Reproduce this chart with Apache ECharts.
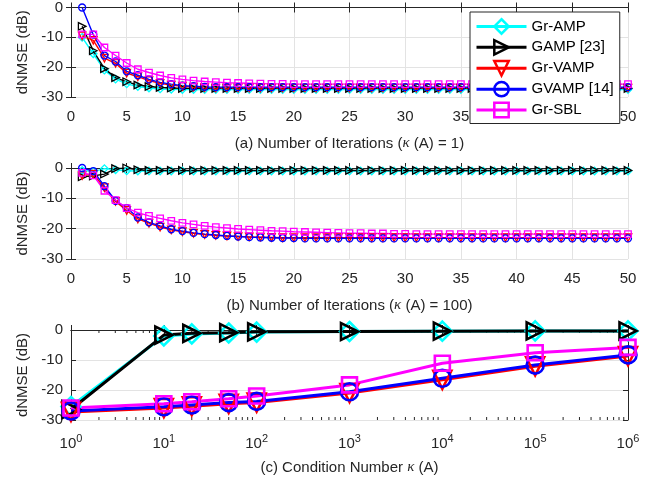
<!DOCTYPE html>
<html><head><meta charset="utf-8">
<script src="https://cdn.jsdelivr.net/npm/echarts@6/dist/echarts.min.js"></script>
<style>html,body{margin:0;padding:0;background:#fff}#c{width:662px;height:482px}</style>
</head><body><div id="c"></div>
<script>
const names = ['Gr-AMP', 'GAMP [23]', 'Gr-VAMP', 'GVAMP [14]', 'Gr-SBL'];
const colors = ['#00ffff', '#000000', '#ff0000', '#0000ff', '#ff00ff'];
const symbols = ['diamond', 'triangle', 'triangle', 'circle', 'rect'];
const rotations = [0, -90, 180, 0, 0];

const iterations = [1,2,3,4,5,6,7,8,9,10,11,12,13,14,15,16,17,18,19,20,21,22,23,24,25,
  26,27,28,29,30,31,32,33,34,35,36,37,38,39,40,41,42,43,44,45,46,47,48,49,50];

// (a) kappa(A) = 1
const a_GrAMP = [-10,-15.5,-21,-24,-25.6,-26.5,-27,-27.3,-27.4,-27.5,
  -27.5,-27.5,-27.5,-27.5,-27.5,-27.5,-27.5,-27.5,-27.5,-27.5,
  -27.5,-27.5,-27.5,-27.5,-27.5,-27.5,-27.5,-27.5,-27.5,-27.5,
  -27.5,-27.5,-27.5,-27.5,-27.5,-27.5,-27.5,-27.5,-27.5,-27.5,
  -27.5,-27.5,-27.5,-27.5,-27.5,-27.5,-27.5,-27.5,-27.5,-27.5];
const a_GAMP = [-6.3,-14.5,-20.5,-23.5,-24.9,-26,-26.5,-26.8,-27,-27.1,
  -27.1,-27.1,-27.1,-27.1,-27.1,-27.1,-27.1,-27.1,-27.1,-27.1,
  -27.1,-27.1,-27.1,-27.1,-27.1,-27.1,-27.1,-27.1,-27.1,-27.1,
  -27.1,-27.1,-27.1,-27.1,-27.1,-27.1,-27.1,-27.1,-27.1,-27.1,
  -27.1,-27.1,-27.1,-27.1,-27.1,-27.1,-27.1,-27.1,-27.1,-27.1];
const a_GrVAMP = [-9.5,-11,-17,-18.7,-22,-23.2,-24.5,-25.4,-26,-26.4,
  -26.7,-26.9,-27,-27,-27,-27,-27,-27,-27,-27,
  -27,-27,-27,-27,-27,-27,-27,-27,-27,-27,
  -27,-27,-27,-27,-27,-27,-27,-27,-27,-27,
  -27,-27,-27,-27,-27,-27,-27,-27,-27,-27];
const a_GVAMP = [0,-9.1,-16.1,-18.1,-21.4,-22.7,-24.1,-25.1,-25.7,-26.2,
  -26.4,-26.6,-26.7,-26.7,-26.7,-26.7,-26.7,-26.7,-26.7,-26.7,
  -26.7,-26.7,-26.7,-26.7,-26.7,-26.7,-26.7,-26.7,-26.7,-26.7,
  -26.7,-26.7,-26.7,-26.7,-26.7,-26.7,-26.7,-26.7,-26.7,-26.7,
  -26.7,-26.7,-26.7,-26.7,-26.7,-26.7,-26.7,-26.7,-26.7,-26.7];
const a_GrSBL = [-9,-9,-13.4,-16.1,-18.6,-20.7,-21.8,-22.8,-23.6,-24.1,
  -24.5,-24.8,-25,-25.2,-25.3,-25.4,-25.5,-25.6,-25.6,-25.7,
  -25.7,-25.7,-25.7,-25.7,-25.7,-25.7,-25.7,-25.7,-25.7,-25.7,
  -25.7,-25.7,-25.7,-25.7,-25.7,-25.7,-25.7,-25.7,-25.7,-25.7,
  -25.7,-25.7,-25.7,-25.7,-25.7,-25.7,-25.7,-25.7,-25.7,-25.7];

// (b) kappa(A) = 100
const b_GrAMP = [-0.8,-1.2,-0.2,-0.6,-0.9,-1,-1,-1,-1,-1,
  -1,-1,-1,-1,-1,-1,-1,-1,-1,-1,
  -1,-1,-1,-1,-1,-1,-1,-1,-1,-1,
  -1,-1,-1,-1,-1,-1,-1,-1,-1,-1,
  -1,-1,-1,-1,-1,-1,-1,-1,-1,-1];
const b_GAMP = [-2.9,-2.6,-2,-0.2,0,-0.6,-0.8,-0.8,-0.8,-0.8,
  -0.8,-0.8,-0.8,-0.8,-0.8,-0.8,-0.8,-0.8,-0.8,-0.8,
  -0.8,-0.8,-0.8,-0.8,-0.8,-0.8,-0.8,-0.8,-0.8,-0.8,
  -0.8,-0.8,-0.8,-0.8,-0.8,-0.8,-0.8,-0.8,-0.8,-0.8,
  -0.8,-0.8,-0.8,-0.8,-0.8,-0.8,-0.8,-0.8,-0.8,-0.8];
const b_GrVAMP = [-2.5,-2,-6.5,-11,-14,-16.8,-18.2,-19.5,-20.4,-21,
  -21.5,-21.9,-22.2,-22.4,-22.6,-22.7,-22.8,-22.9,-23,-23,
  -23,-23,-23,-23,-23,-23,-23,-23,-23,-23,
  -23,-23,-23,-23,-23,-23,-23,-23,-23,-23,
  -23,-23,-23,-23,-23,-23,-23,-23,-23,-23];
const b_GVAMP = [0,-1,-6,-10.8,-13.2,-16.3,-17.9,-19.1,-20.2,-20.8,
  -21.4,-21.8,-22.1,-22.4,-22.6,-22.8,-22.9,-23,-23.1,-23.1,
  -23.2,-23.2,-23.2,-23.2,-23.2,-23.2,-23.2,-23.2,-23.2,-23.2,
  -23.2,-23.2,-23.2,-23.2,-23.2,-23.2,-23.2,-23.2,-23.2,-23.2,
  -23.2,-23.2,-23.2,-23.2,-23.2,-23.2,-23.2,-23.2,-23.2,-23.2];
const b_GrSBL = [-1.6,-2.4,-7.5,-10.6,-13.2,-14.7,-15.8,-16.6,-17.4,-18.1,
  -18.6,-19.1,-19.5,-19.8,-20.1,-20.3,-20.5,-20.7,-20.8,-21,
  -21.1,-21.2,-21.3,-21.4,-21.5,-21.5,-21.6,-21.6,-21.7,-21.7,
  -21.8,-21.8,-21.8,-21.8,-21.8,-21.8,-21.8,-21.8,-21.8,-21.8,
  -21.8,-21.8,-21.8,-21.8,-21.8,-21.8,-21.8,-21.8,-21.8,-21.8];

// (c) versus condition number
const condNumbers = [1, 10, 20, 50, 100, 1000, 10000, 100000, 1000000];
const c_GrAMP = [-25.5, -2, -1.3, -1, -0.7, -0.5, -0.4, -0.3, -0.3];
const c_GAMP = [-26.5, -1.7, -1.1, -0.9, -0.6, -0.5, -0.4, -0.3, -0.3];
const c_GrVAMP = [-27.3, -26, -25.4, -24.6, -24.2, -21, -16.6, -12.1, -8.7];
const c_GVAMP = [-27, -25.6, -25, -24.2, -23.8, -20.6, -16.1, -11.7, -8.3];
const c_GrSBL = [-26, -24.6, -23.9, -22.9, -22, -18.3, -11.1, -7.6, -5.8];

const yTicksMin = -30, yTicksMax = 0;

const FONT = 'Liberation Sans, Arial, Helvetica, sans-serif';
const AX = '#262626';
const GRIDC = '#e3e3e3';

const grids = [
  {left: 71, top: 6, width: 557, height: 91},
  {left: 71, top: 168, width: 557, height: 91},
  {left: 71, top: 330, width: 557, height: 90}
];

const richName = {
  n: {fontSize: 15, color: AX, fontFamily: FONT},
  k: {fontSize: 15, color: AX, fontFamily: 'Liberation Serif, serif', fontStyle: 'italic'}
};
const titles = [
  '{n|(a) Number of Iterations (}{k|κ}{n| (A) = 1)}',
  '{n|(b) Number of Iterations (}{k|κ}{n| (A) = 100)}',
  '{n|(c) Condition Number }{k|κ}{n| (A)}'
];

const xAxes = [], yAxes = [];
for (let g = 0; g < 3; g++) {
  const isLog = g === 2;
  const base = isLog
    ? {type: 'log', logBase: 10, min: 1, max: 1000000, splitNumber: 6}
    : {type: 'value', min: 0, max: 50, interval: 5};
  xAxes.push(Object.assign({}, base, {
    gridIndex: g, position: 'bottom',
    axisLine: {show: true, lineStyle: {color: AX, width: 1}},
    axisTick: {show: true, inside: true, length: 5, lineStyle: {color: AX}},
    splitLine: {show: !isLog, lineStyle: {color: GRIDC, width: 1}},
    axisLabel: isLog ? {
      margin: 13, color: AX, fontFamily: FONT,
      formatter: v => '{b|10}{s|' + Math.round(Math.log10(v)) + '}',
      rich: {b: {fontSize: 15, color: AX, fontFamily: FONT},
             s: {fontSize: 11, color: AX, fontFamily: FONT, padding: [0, 0, 10, 0]}}
    } : {margin: 12, fontSize: 15, color: AX, fontFamily: FONT},
    name: titles[g], nameLocation: 'middle', nameGap: isLog ? 40 : 39,
    nameTextStyle: {rich: richName}
  }));
  xAxes.push(Object.assign({}, base, {
    gridIndex: g, position: 'top',
    axisLine: {show: true, lineStyle: {color: AX, width: 1}},
    axisTick: {show: true, inside: true, length: 5, lineStyle: {color: AX}},
    splitLine: {show: false}, axisLabel: {show: false}
  }));
  yAxes.push({
    type: 'value', gridIndex: g, position: 'left', min: yTicksMin, max: yTicksMax, interval: 10,
    axisLine: {show: true, lineStyle: {color: AX, width: 1}},
    axisTick: {show: true, inside: true, length: 5, lineStyle: {color: AX}},
    splitLine: {show: true, lineStyle: {color: GRIDC, width: 1}},
    axisLabel: {margin: 8, fontSize: 15, color: AX, fontFamily: FONT},
    name: 'dNMSE (dB)', nameLocation: 'middle', nameGap: 37,
    nameTextStyle: {fontSize: 15, color: AX, fontFamily: FONT}
  });
  yAxes.push({
    type: 'value', gridIndex: g, position: 'right', min: yTicksMin, max: yTicksMax, interval: 10,
    axisLine: {show: true, lineStyle: {color: AX, width: 1}},
    axisTick: {show: true, inside: true, length: 5, lineStyle: {color: AX}},
    splitLine: {show: false}, axisLabel: {show: false}
  });
}

function mkSeries(g, xs, ys, k, big) {
  const small = [7.5, 7.5, 7.5, 7, 6.5];
  const large = [19, 17, 18, 17, 15];
  return {
    type: 'line', name: names[k], xAxisIndex: g * 2, yAxisIndex: g * 2,
    data: xs.map((x, j) => [x, ys[j]]),
    symbol: symbols[k], symbolRotate: rotations[k],
    symbolSize: big ? large[k] : small[k],
    showAllSymbol: true,
    lineStyle: {color: colors[k], width: big ? 3 : 1.4},
    itemStyle: {color: 'rgba(255,255,255,0)', borderColor: colors[k], borderWidth: big ? 2.6 : 1.3},
    emphasis: {disabled: true}, silent: true, animation: false
  };
}

const sets = [
  [iterations, [a_GrAMP, a_GAMP, a_GrVAMP, a_GVAMP, a_GrSBL], false],
  [iterations, [b_GrAMP, b_GAMP, b_GrVAMP, b_GVAMP, b_GrSBL], false],
  [condNumbers, [c_GrAMP, c_GAMP, c_GrVAMP, c_GVAMP, c_GrSBL], true]
];
const series = [];
sets.forEach((s, g) => s[1].forEach((ys, k) => series.push(mkSeries(g, s[0], ys, k, s[2]))));

// minor log ticks of panel (c)
const minorTicks = [];
for (let d = 0; d < 6; d++) for (let m = 2; m <= 9; m++) minorTicks.push(m * Math.pow(10, d));
series.push({
  type: 'custom', xAxisIndex: 4, yAxisIndex: 4, silent: true, animation: false,
  data: minorTicks.map(v => [v]),
  renderItem: (params, api) => {
    const v = api.value(0);
    const b = api.coord([v, yTicksMin]);
    const t = api.coord([v, yTicksMax]);
    return {type: 'group', children: [
      {type: 'line', shape: {x1: b[0], y1: b[1], x2: b[0], y2: b[1] - 3}, style: {stroke: AX, lineWidth: 1}},
      {type: 'line', shape: {x1: t[0], y1: t[1], x2: t[0], y2: t[1] + 3}, style: {stroke: AX, lineWidth: 1}}
    ]};
  }
});

const chart = echarts.init(document.getElementById('c'), null, {renderer: 'canvas'});
chart.setOption({
  backgroundColor: '#fff',
  animation: false,
  grid: grids,
  xAxis: xAxes,
  yAxis: yAxes,
  legend: {
    data: names, orient: 'vertical', left: 470, top: 12,
    itemWidth: 50, itemHeight: 18, itemGap: 4,
    padding: [6, 6, 5, 5],
    backgroundColor: '#fff', borderColor: AX, borderWidth: 1, borderRadius: 0,
    lineStyle: {width: 3}, itemStyle: {borderWidth: 2.5},
    textStyle: {fontSize: 15, color: '#000', fontFamily: FONT},
    selectedMode: false
  },
  series: series
});
</script></body></html>
